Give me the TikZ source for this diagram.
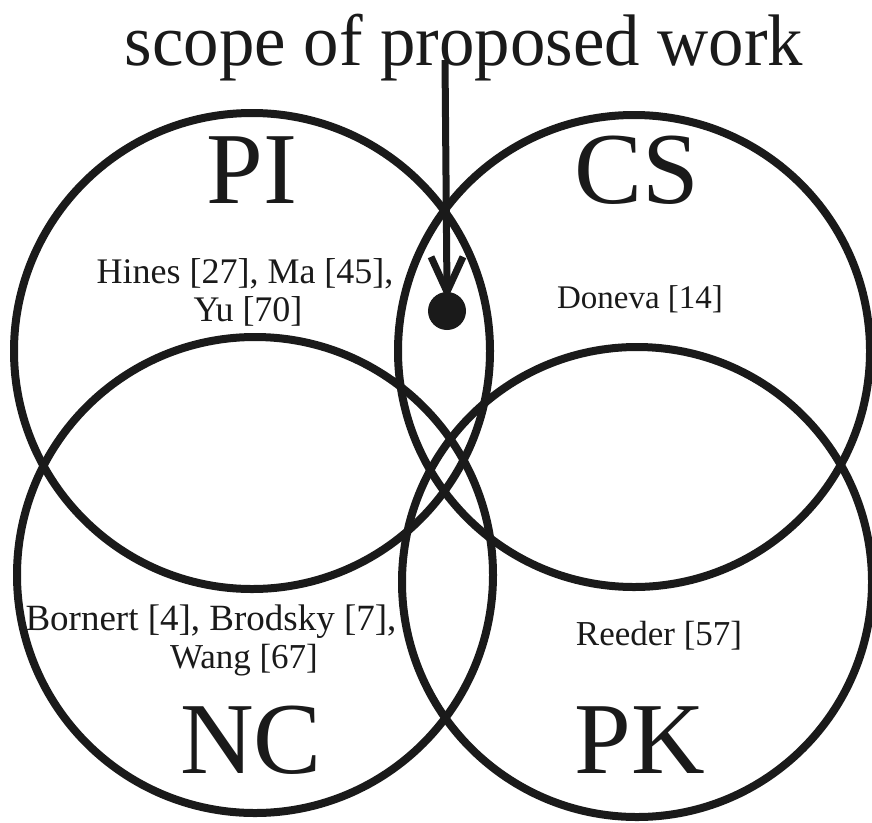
\documentclass[tikz,border=0pt]{standalone}
\usepackage{fontspec}
\setmainfont{Liberation Serif}
\usetikzlibrary{calc}
\begin{document}
\begin{tikzpicture}[x=1pt,y=-1pt]
\definecolor{ink}{HTML}{1A1A1A}
\tikzset{
  ring/.style={draw=ink, line width=8pt},
  bigtitle/.style={anchor=base, inner sep=0pt, text=ink, font=\fontsize{73}{80}\selectfont},
  setlabel/.style={anchor=base, inner sep=0pt, text=ink, font=\fontsize{102}{110}\selectfont},
  cite/.style={anchor=base, inner sep=0pt, text=ink},
  pointer/.style={draw=ink, line width=7pt},
}
\useasboundingbox (0,0) rectangle (872,822);
% circles
\draw[ring] (252,351) circle[radius=238];
\draw[ring] (634,351) circle[radius=236];
\draw[ring] (255,575) circle[radius=238];
\draw[ring] (637,582) circle[radius=235];
% title
\node[bigtitle] (title) at (464,65) {\scalebox{0.97}[1]{scope of proposed work}};
% set labels
\node[setlabel] (pi) at (252,203) {PI};
\node[setlabel] (cs) at (637,203) {CS};
\node[setlabel] (nc) at (251,773) {NC};
\node[setlabel] (pk) at (640,773) {PK};
% citations
\node[cite, font=\fontsize{36}{40}\selectfont] (hines) at (245,283) {Hines [27], Ma [45],};
\node[cite, font=\fontsize{36}{40}\selectfont] (yu) at (248,321) {Yu [70]};
\node[cite, font=\fontsize{33}{36}\selectfont] (doneva) at (640,308) {Doneva [14]};
\node[cite, font=\fontsize{37}{40}\selectfont] (bornert) at (211,630) {Bornert [4], Brodsky [7],};
\node[cite, font=\fontsize{35}{40}\selectfont] (wang) at (244,668) {Wang [67]};
\node[cite, font=\fontsize{35}{40}\selectfont] (reeder) at (659,645) {Reeder [57]};
% pointer
\node[circle, fill=ink, minimum size=38pt, inner sep=0pt] (dot) at (447,311) {};
\coordinate (arrowstart) at (445,60);
\draw[pointer] (arrowstart) -- (dot.north);
\draw[pointer, line join=miter] ($(dot.north)+(-16,-35)$) -- (dot.north) -- ($(dot.north)+(16,-35)$);
\end{tikzpicture}
\end{document}
